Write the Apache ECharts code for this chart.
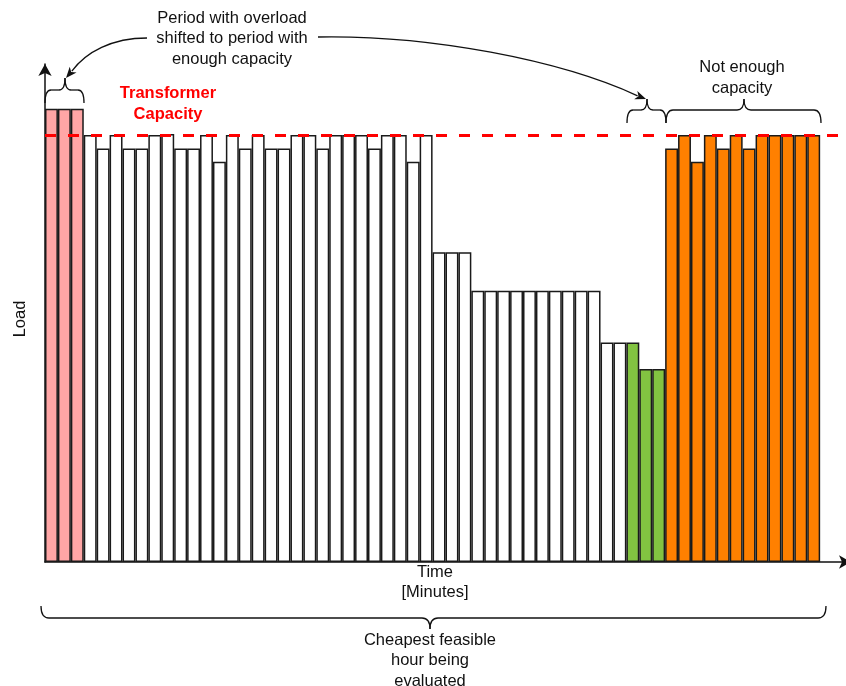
<!DOCTYPE html>
<html>
<head>
<meta charset="utf-8">
<script src="https://cdn.jsdelivr.net/npm/echarts@6/dist/echarts.min.js"></script>
<style>
html,body{margin:0;padding:0;background:#fff;}
#chart{width:846px;height:686px;}
</style>
</head>
<body>
<div id="chart"></div>
<script>
// Minutes of the evaluated hour
var minutes = ['1','2','3','4','5','6','7','8','9','10','11','12','13','14','15','16','17','18','19','20',
  '21','22','23','24','25','26','27','28','29','30','31','32','33','34','35','36','37','38','39','40',
  '41','42','43','44','45','46','47','48','49','50','51','52','53','54','55','56','57','58','59','60'];
// Load per minute (capacity = 100)
var load = [106.1,106.1,106.1,
  100,96.8,100,96.8,96.8,100,100.2,96.8,96.8,100,93.7,100,96.8,100,96.8,96.8,100,100,96.8,100,100,100,96.8,100,100,93.7,100,
  72.5,72.5,72.5,
  63.5,63.5,63.5,63.5,63.5,63.5,63.5,63.5,63.5,63.5,
  51.4,51.4,51.4,
  45.2,45.2,
  96.8,100,93.7,100,96.8,100,96.8,100,100,100,100,100];
// Status of each minute
var minuteStatus = ['overload','overload','overload',
  'normal','normal','normal','normal','normal','normal','normal','normal','normal','normal','normal','normal','normal','normal','normal','normal','normal','normal','normal','normal','normal','normal','normal','normal','normal','normal','normal',
  'normal','normal','normal',
  'normal','normal','normal','normal','normal','normal','normal','normal','normal','normal',
  'normal','normal','shifted',
  'shifted','shifted',
  'short','short','short','short','short','short','short','short','short','short','short','short'];
var capacity = [100];
var statusColors = {overload:'#FFA6A6', normal:'#FFFFFF', shifted:'#82C341', short:'#FF8000'};

var FONT = 'Liberation Sans, Arial, sans-serif';
var INK = '#111111';

var barData = load.map(function(v, i){
  return {value: v, itemStyle: {color: statusColors[minuteStatus[i]]}};
});

function brace(x0, x1, xm, yEnd, yMid, yTip, r){
  var s = {stroke: INK, lineWidth: 1.3, fill: null};
  return [
    {type:'bezierCurve', shape:{x1:x0,y1:yEnd,cpx1:x0,cpy1:yMid,x2:x0+r,y2:yMid}, style:s},
    {type:'line', shape:{x1:x0+r,y1:yMid,x2:xm-r,y2:yMid}, style:s},
    {type:'bezierCurve', shape:{x1:xm-r,y1:yMid,cpx1:xm,cpy1:yMid,x2:xm,y2:yTip}, style:s},
    {type:'bezierCurve', shape:{x1:xm,y1:yTip,cpx1:xm,cpy1:yMid,x2:xm+r,y2:yMid}, style:s},
    {type:'line', shape:{x1:xm+r,y1:yMid,x2:x1-r,y2:yMid}, style:s},
    {type:'bezierCurve', shape:{x1:x1-r,y1:yMid,cpx1:x1,cpy1:yMid,x2:x1,y2:yEnd}, style:s}
  ];
}
function arrow(x0, y0, c1x, c1y, c2x, c2y, tx, ty, dx, dy){
  var n = Math.sqrt(dx*dx+dy*dy); dx/=n; dy/=n;
  var L = 11, w = 4.5;
  var bx = tx - L*dx, by = ty - L*dy;
  var px = -dy, py = dx;
  return [
    {type:'bezierCurve', shape:{x1:x0,y1:y0,cpx1:c1x,cpy1:c1y,cpx2:c2x,cpy2:c2y,x2:bx+2*dx,y2:by+2*dy},
      style:{stroke:INK,lineWidth:1.3,fill:null}},
    {type:'polygon', shape:{points:[[tx,ty],[bx+w*px,by+w*py],[bx+3*dx,by+3*dy],[bx-w*px,by-w*py]]},
      style:{fill:INK}}
  ];
}
function txt(x, y, t, extra){
  var st = {text:t, x:x, y:y, fill:INK, font:'16.5px ' + FONT, textAlign:'center', textVerticalAlign:'middle', lineHeight:20.5};
  for (var k in extra) st[k] = extra[k];
  return {type:'text', style:st, z:100};
}

var graphics = []
  .concat(brace(45, 84, 65, 103, 90, 78, 6))
  .concat(brace(627, 666, 647, 123, 110, 99, 6))
  .concat(brace(666, 821, 744, 123, 110, 99, 7))
  .concat(brace(41, 826, 430, 606, 618, 629, 8))
  .concat(arrow(147, 38, 112, 38, 86, 52, 66, 78, -0.65, 0.76))
  .concat(arrow(318, 37, 430, 35, 560, 60, 646, 99, 1, 0.38))
  .concat([
    txt(232, 38.5, 'Period with overload\nshifted to period with\nenough capacity'),
    txt(168, 103.5, 'Transformer\nCapacity', {fill:'#FF0000', font:'bold 16.5px ' + FONT, lineHeight:21}),
    txt(742, 78, 'Not enough\ncapacity'),
    txt(435, 582.5, 'Time\n[Minutes]'),
    txt(430, 660.5, 'Cheapest feasible\nhour being\nevaluated'),
    {type:'text', x:20, y:319, rotation:Math.PI/2, style:{text:'Load', fill:INK, font:'16.5px ' + FONT, textAlign:'center', textVerticalAlign:'middle'}, z:100}
  ]);

var chart = echarts.init(document.getElementById('chart'), null, {renderer:'canvas'});
chart.setOption({
  animation: false,
  backgroundColor: '#ffffff',
  grid: {left: 45, right: 0, top: 64, bottom: 124, containLabel: false},
  xAxis: {
    type: 'category', data: minutes, max: 61, boundaryGap: true,
    axisLine: {show: true, lineStyle: {color: INK, width: 1.5}, symbol: ['none','arrow'], symbolSize: [10, 12], symbolOffset: [0, 5]},
    axisTick: {show: false}, axisLabel: {show: false}, splitLine: {show: false}
  },
  yAxis: {
    type: 'value', min: 0, max: 116.6,
    axisLine: {show: true, onZero: false, lineStyle: {color: INK, width: 1.5}, symbol: ['none','arrow'], symbolSize: [10, 12]},
    axisTick: {show: false}, axisLabel: {show: false}, splitLine: {show: false}
  },
  series: [{
    type: 'bar', data: barData, barCategoryGap: '0%', barWidth: '100%',
    itemStyle: {borderColor: '#1a1a1a', borderWidth: 1.5},
    markLine: {
      silent: true, symbol: ['none','none'], label: {show: false},
      lineStyle: {color: '#FF0000', width: 3, type: [11, 12]},
      data: capacity.map(function(c){ return {yAxis: c}; }),
      z: 10
    }
  }],
  graphic: graphics
});
</script>
</body>
</html>
